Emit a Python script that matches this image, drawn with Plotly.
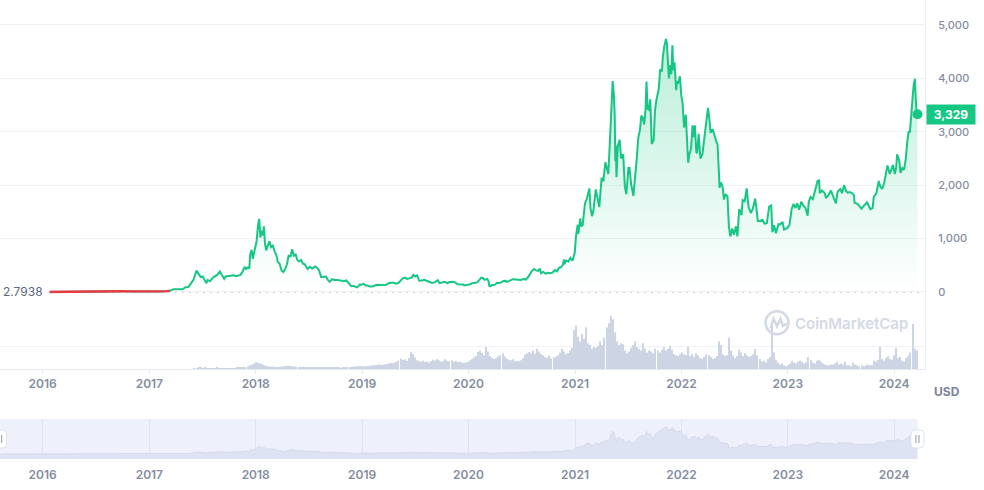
import pandas as pd
import plotly.graph_objects as go

# ---------------- data ----------------
PRICE_2015_2016 = [
    ("2015-08-08", 2.7938), ("2015-08-20", 1.25), ("2015-09-10", 1.0), ("2015-10-01", 0.7),
    ("2015-10-21", 0.45), ("2015-11-15", 0.9), ("2015-12-10", 0.85), ("2016-01-05", 0.95),
    ("2016-02-01", 2.3), ("2016-02-20", 4.5), ("2016-03-13", 14.5), ("2016-04-01", 11.5),
    ("2016-04-20", 8.0), ("2016-05-15", 12.5), ("2016-06-17", 20.0), ("2016-07-01", 12.5),
    ("2016-08-01", 9.0), ("2016-09-01", 12.0), ("2016-10-01", 13.0), ("2016-11-01", 11.0),
    ("2016-12-01", 8.0),
]
PRICE_2017 = [
    ("2017-01-01", 8.2), ("2017-02-01", 10.7), ("2017-03-01", 16.1), ("2017-03-12", 22),
    ("2017-03-25", 50), ("2017-04-10", 44), ("2017-04-25", 52), ("2017-05-05", 90),
    ("2017-05-15", 92), ("2017-05-25", 170), ("2017-06-01", 225), ("2017-06-12", 400),
    ("2017-06-18", 355), ("2017-06-26", 280), ("2017-07-03", 290), ("2017-07-10", 230),
    ("2017-07-16", 165), ("2017-07-20", 225), ("2017-07-28", 200), ("2017-08-07", 270),
    ("2017-08-15", 295), ("2017-08-22", 320), ("2017-08-31", 385), ("2017-09-07", 330),
    ("2017-09-15", 245), ("2017-09-20", 290), ("2017-09-28", 300), ("2017-10-08", 305),
    ("2017-10-17", 315), ("2017-10-25", 295), ("2017-11-03", 305), ("2017-11-10", 320),
    ("2017-11-17", 380), ("2017-11-24", 470), ("2017-11-29", 430), ("2017-12-05", 460),
    ("2017-12-10", 440), ("2017-12-13", 700), ("2017-12-18", 790), ("2017-12-22", 620),
    ("2017-12-27", 750),
]
PRICE_2018 = [
    ("2018-01-04", 950), ("2018-01-09", 1250), ("2018-01-13", 1370), ("2018-01-17", 1020),
    ("2018-01-21", 1150), ("2018-01-26", 1060), ("2018-01-29", 1230), ("2018-02-02", 900),
    ("2018-02-06", 780), ("2018-02-11", 860), ("2018-02-17", 950), ("2018-02-23", 840),
    ("2018-03-01", 870), ("2018-03-07", 760), ("2018-03-13", 690), ("2018-03-18", 560),
    ("2018-03-24", 530), ("2018-03-31", 400), ("2018-04-06", 375), ("2018-04-12", 430),
    ("2018-04-18", 520), ("2018-04-24", 680), ("2018-05-01", 670), ("2018-05-06", 800),
    ("2018-05-12", 680), ("2018-05-18", 700), ("2018-05-24", 600), ("2018-05-30", 570),
    ("2018-06-06", 600), ("2018-06-12", 530), ("2018-06-18", 520), ("2018-06-28", 430),
    ("2018-07-06", 470), ("2018-07-14", 440), ("2018-07-24", 480), ("2018-07-30", 460),
    ("2018-08-06", 410), ("2018-08-14", 280), ("2018-08-22", 280), ("2018-08-30", 290),
    ("2018-09-05", 230), ("2018-09-12", 190), ("2018-09-20", 240), ("2018-09-28", 225),
    ("2018-10-10", 225), ("2018-10-20", 205), ("2018-10-30", 200), ("2018-11-08", 215),
    ("2018-11-14", 180), ("2018-11-20", 130), ("2018-11-25", 110), ("2018-12-02", 115),
    ("2018-12-08", 92), ("2018-12-14", 85), ("2018-12-20", 110), ("2018-12-24", 140),
    ("2018-12-31", 135),
]
PRICE_2019 = [
    ("2019-01-06", 155), ("2019-01-13", 120), ("2019-01-20", 122), ("2019-01-28", 105),
    ("2019-02-06", 104), ("2019-02-16", 125), ("2019-02-24", 135), ("2019-03-05", 130),
    ("2019-03-15", 138), ("2019-03-25", 135), ("2019-04-02", 165), ("2019-04-10", 175),
    ("2019-04-20", 172), ("2019-04-28", 155), ("2019-05-06", 170), ("2019-05-14", 215),
    ("2019-05-20", 250), ("2019-05-28", 270), ("2019-06-04", 245), ("2019-06-12", 255),
    ("2019-06-20", 270), ("2019-06-26", 320), ("2019-07-02", 290), ("2019-07-09", 310),
    ("2019-07-16", 210), ("2019-07-25", 215), ("2019-08-04", 230), ("2019-08-10", 210),
    ("2019-08-20", 195), ("2019-08-29", 170), ("2019-09-07", 180), ("2019-09-18", 220),
    ("2019-09-24", 165), ("2019-10-02", 178), ("2019-10-12", 190), ("2019-10-22", 162),
    ("2019-10-26", 185), ("2019-11-06", 190), ("2019-11-15", 182), ("2019-11-25", 145),
    ("2019-12-05", 148), ("2019-12-15", 140), ("2019-12-18", 122), ("2019-12-28", 128),
]
PRICE_2020 = [
    ("2020-01-07", 145), ("2020-01-14", 165), ("2020-01-22", 168), ("2020-01-31", 180),
    ("2020-02-07", 222), ("2020-02-14", 270), ("2020-02-20", 258), ("2020-02-26", 226),
    ("2020-03-06", 245), ("2020-03-10", 200), ("2020-03-13", 112), ("2020-03-16", 110),
    ("2020-03-22", 130), ("2020-03-31", 133), ("2020-04-08", 172), ("2020-04-16", 170),
    ("2020-04-24", 185), ("2020-04-30", 208), ("2020-05-08", 212), ("2020-05-12", 190),
    ("2020-05-20", 208), ("2020-05-28", 220), ("2020-06-02", 240), ("2020-06-12", 236),
    ("2020-06-20", 229), ("2020-06-28", 226), ("2020-07-08", 241), ("2020-07-16", 232),
    ("2020-07-24", 280), ("2020-07-30", 334), ("2020-08-06", 396), ("2020-08-14", 430),
    ("2020-08-20", 405), ("2020-08-28", 395), ("2020-09-02", 440), ("2020-09-06", 352),
    ("2020-09-14", 375), ("2020-09-22", 342), ("2020-09-30", 360), ("2020-10-08", 350),
    ("2020-10-16", 368), ("2020-10-24", 410), ("2020-10-31", 386), ("2020-11-07", 455),
    ("2020-11-14", 465), ("2020-11-20", 510), ("2020-11-24", 608), ("2020-11-26", 520),
    ("2020-12-01", 590), ("2020-12-09", 570), ("2020-12-16", 640), ("2020-12-23", 585),
    ("2020-12-31", 737),
]
PRICE_2021 = [
    ("2021-01-04", 1040), ("2021-01-10", 1260), ("2021-01-12", 1090), ("2021-01-19", 1380),
    ("2021-01-22", 1230), ("2021-01-27", 1250), ("2021-02-04", 1660), ("2021-02-10", 1740),
    ("2021-02-19", 1940), ("2021-02-23", 1570), ("2021-02-28", 1420), ("2021-03-05", 1530),
    ("2021-03-13", 1920), ("2021-03-18", 1800), ("2021-03-25", 1590), ("2021-04-02", 2140),
    ("2021-04-08", 2070), ("2021-04-15", 2430), ("2021-04-22", 2300), ("2021-04-25", 2210),
    ("2021-04-30", 2770), ("2021-05-04", 3260), ("2021-05-10", 3950), ("2021-05-14", 3700),
    ("2021-05-17", 3300), ("2021-05-19", 2450), ("2021-05-21", 2740), ("2021-05-23", 2150),
    ("2021-05-28", 2750), ("2021-06-03", 2850), ("2021-06-08", 2500), ("2021-06-15", 2580),
    ("2021-06-21", 1960), ("2021-06-26", 1830), ("2021-07-03", 2320), ("2021-07-07", 2320),
    ("2021-07-12", 2030), ("2021-07-20", 1800), ("2021-07-25", 2190), ("2021-07-31", 2460),
    ("2021-08-06", 2890), ("2021-08-12", 3050), ("2021-08-16", 3300), ("2021-08-20", 3280),
    ("2021-08-26", 3140), ("2021-08-31", 3430), ("2021-09-03", 3940), ("2021-09-07", 3430),
    ("2021-09-12", 3410), ("2021-09-16", 3610), ("2021-09-21", 2770), ("2021-09-28", 2850),
    ("2021-10-02", 3390), ("2021-10-07", 3590), ("2021-10-15", 3800), ("2021-10-20", 4170),
    ("2021-10-26", 4130), ("2021-10-29", 4400), ("2021-11-03", 4600), ("2021-11-09", 4740),
    ("2021-11-12", 4650), ("2021-11-16", 4250), ("2021-11-19", 4000), ("2021-11-24", 4250),
    ("2021-11-27", 4080), ("2021-12-01", 4620), ("2021-12-04", 4150), ("2021-12-08", 4300),
    ("2021-12-11", 3930), ("2021-12-14", 3780), ("2021-12-17", 3950), ("2021-12-20", 3900),
    ("2021-12-27", 4040), ("2021-12-31", 3700),
]
PRICE_2022 = [
    ("2022-01-05", 3530), ("2022-01-10", 3080), ("2022-01-16", 3320), ("2022-01-21", 2570),
    ("2022-01-24", 2420), ("2022-01-29", 2600), ("2022-02-03", 2680), ("2022-02-08", 3120),
    ("2022-02-12", 2900), ("2022-02-16", 3120), ("2022-02-21", 2620), ("2022-02-24", 2600),
    ("2022-03-01", 2960), ("2022-03-07", 2500), ("2022-03-14", 2580), ("2022-03-20", 2860),
    ("2022-03-26", 3120), ("2022-04-02", 3450), ("2022-04-07", 3230), ("2022-04-11", 2980),
    ("2022-04-18", 3050), ("2022-04-24", 2920), ("2022-05-01", 2810), ("2022-05-05", 2760),
    ("2022-05-09", 2250), ("2022-05-12", 1950), ("2022-05-16", 2050), ("2022-05-22", 1980),
    ("2022-05-27", 1730), ("2022-06-01", 1830), ("2022-06-08", 1790), ("2022-06-13", 1210),
    ("2022-06-18", 1040), ("2022-06-24", 1190), ("2022-06-30", 1070), ("2022-07-07", 1230),
    ("2022-07-12", 1040), ("2022-07-18", 1550), ("2022-07-26", 1440), ("2022-07-30", 1720),
    ("2022-08-06", 1700), ("2022-08-13", 1940), ("2022-08-19", 1600), ("2022-08-27", 1480),
    ("2022-09-03", 1560), ("2022-09-06", 1620), ("2022-09-11", 1750), ("2022-09-15", 1580),
    ("2022-09-20", 1330), ("2022-09-28", 1330), ("2022-10-06", 1350), ("2022-10-13", 1280),
    ("2022-10-21", 1290), ("2022-10-29", 1600), ("2022-11-05", 1620), ("2022-11-09", 1120),
    ("2022-11-15", 1250), ("2022-11-21", 1100), ("2022-11-30", 1270), ("2022-12-05", 1260),
    ("2022-12-14", 1310), ("2022-12-19", 1170), ("2022-12-31", 1200),
]
PRICE_2023 = [
    ("2023-01-07", 1260), ("2023-01-14", 1550), ("2023-01-21", 1650), ("2023-01-27", 1570),
    ("2023-02-02", 1660), ("2023-02-09", 1540), ("2023-02-16", 1690), ("2023-02-24", 1610),
    ("2023-03-03", 1570), ("2023-03-10", 1430), ("2023-03-14", 1690), ("2023-03-20", 1780),
    ("2023-03-28", 1740), ("2023-04-04", 1870), ("2023-04-13", 2080), ("2023-04-18", 2090),
    ("2023-04-21", 1850), ("2023-04-28", 1900), ("2023-05-08", 1850), ("2023-05-12", 1760),
    ("2023-05-20", 1810), ("2023-05-29", 1900), ("2023-06-05", 1810), ("2023-06-10", 1750),
    ("2023-06-15", 1660), ("2023-06-21", 1880), ("2023-06-30", 1930), ("2023-07-06", 1850),
    ("2023-07-13", 2000), ("2023-07-20", 1890), ("2023-07-25", 1860), ("2023-08-02", 1870),
    ("2023-08-10", 1850), ("2023-08-16", 1810), ("2023-08-18", 1670), ("2023-08-28", 1650),
    ("2023-09-11", 1560), ("2023-09-20", 1620), ("2023-09-30", 1680), ("2023-10-05", 1620),
    ("2023-10-12", 1550), ("2023-10-19", 1570), ("2023-10-23", 1780), ("2023-11-01", 1850),
    ("2023-11-09", 2080), ("2023-11-14", 1980), ("2023-11-21", 1930), ("2023-11-28", 2050),
    ("2023-12-05", 2250), ("2023-12-09", 2370), ("2023-12-17", 2210), ("2023-12-23", 2310),
    ("2023-12-28", 2380),
]
PRICE_2024 = [
    ("2024-01-03", 2210), ("2024-01-08", 2330), ("2024-01-11", 2580), ("2024-01-15", 2510),
    ("2024-01-18", 2470), ("2024-01-23", 2230), ("2024-01-29", 2320), ("2024-02-04", 2290),
    ("2024-02-10", 2500), ("2024-02-15", 2820), ("2024-02-20", 3010), ("2024-02-24", 2990),
    ("2024-02-28", 3380), ("2024-03-04", 3620), ("2024-03-08", 3880), ("2024-03-12", 3990),
    ("2024-03-16", 3520), ("2024-03-19", 3250), ("2024-03-21", 3329),
]
RED_UNTIL = "2017-03-12"          # part of the line drawn red (below opening level)

# weekly volume, billions USD, starting on VOLUME_START
VOLUME_START = "2017-06-05"
VOL_2017 = [0.8, 1.0, 1.3, 1.1, 0.9, 1.2, 0.9, 0.7, 0.6, 0.8, 0.9, 1.1, 0.8, 0.7, 0.6,
            0.7, 0.6, 0.6, 0.7, 0.8, 0.9, 1.1, 1.4, 1.2, 1.5, 2.2, 3.1, 4.2, 5.0, 6.0]
VOL_2018 = [7.5, 6.8, 6.0, 5.5, 4.0, 3.2, 2.8, 2.5, 2.6, 2.4, 2.2, 2.0, 2.3, 2.6, 3.0, 3.2,
            3.4, 3.3, 3.0, 2.8, 2.5, 2.2, 2.0, 2.1, 1.8, 1.6, 1.8, 2.0, 1.7, 1.5, 1.4, 1.8,
            1.6, 1.4, 1.5, 1.7, 1.4, 1.3, 1.2, 1.1, 1.3, 1.2, 1.0, 1.1, 1.4, 2.0, 2.2, 2.4,
            2.6, 2.8, 3.0, 3.2]
VOL_2019 = [3.0, 2.8, 3.2, 3.0, 3.4, 3.8, 4.2, 4.0, 4.5, 4.8, 4.4, 5.0, 5.2, 5.8, 6.5, 6.2,
            6.8, 7.5, 9.0, 11.5, 9.8, 10.5, 8.8, 12.0, 18.5, 16.0, 12.5, 9.5, 8.8, 8.0, 9.0,
            7.5, 8.2, 7.0, 8.5, 10.0, 9.2, 11.0, 9.5, 8.0, 8.8, 10.5, 9.0, 8.4, 9.2, 7.8,
            8.5, 7.5, 8.0, 7.2, 6.8, 7.0]
VOL_2020 = [8.0, 9.5, 11.0, 12.5, 14.0, 18.5, 20.0, 17.5, 15.0, 24.0, 19.0, 14.0, 12.5,
            11.0, 12.0, 13.5, 15.0, 17.0, 13.5, 11.0, 10.0, 9.5, 10.5, 8.5, 9.0, 8.5, 9.5,
            12.0, 15.5, 17.0, 18.5, 17.0, 20.0, 16.5, 22.0, 19.0, 16.0, 15.0, 13.0, 12.0,
            14.5, 11.5, 12.5, 13.5, 15.0, 18.0, 22.0, 19.0, 16.0, 17.5, 20.0, 23.0]
VOL_2021 = [42, 47, 35, 30, 38, 33, 45, 28, 26, 22, 24, 23, 25, 30, 26, 34, 45, 50, 58, 54,
            40, 30, 26, 28, 27, 20, 17, 19, 23, 26, 30, 24, 22, 20, 28, 22, 18, 20, 19, 17,
            22, 20, 18, 21, 24, 20, 22, 25, 21, 16, 15, 14]
VOL_2022 = [16, 18, 16, 15, 24, 14, 16, 13, 17, 15, 12, 11, 13, 16, 15, 13, 11, 12, 14, 30,
            26, 16, 14, 15, 34, 20, 15, 12, 14, 21, 18, 14, 17, 15, 13, 14, 16, 22, 15, 11,
            8, 9, 7, 11, 13, 49, 18, 10, 7, 5, 6, 4]
VOL_2023 = [3, 4, 6, 9, 7, 6, 8, 9, 8, 6, 7, 13, 10, 7, 6, 9, 10, 8, 6, 5, 4, 4, 5, 5, 6, 8,
            5, 6, 5, 8, 4, 4, 3, 7, 5, 4, 3, 4, 3, 4, 5, 4, 4, 9, 8, 10, 24, 11, 9, 12, 14, 11]
VOL_2024 = [10, 15, 23, 12, 13, 9, 8, 12, 14, 18, 49, 22, 20]

Y_TICKS = [0, 1000, 2000, 3000, 4000, 5000]
VOL_GRID = [25]

# ---------------- assemble ----------------
PRICE_ROWS = (PRICE_2015_2016 + PRICE_2017 + PRICE_2018 + PRICE_2019 + PRICE_2020
              + PRICE_2021 + PRICE_2022 + PRICE_2023 + PRICE_2024)
price_dates = pd.to_datetime([d for d, _ in PRICE_ROWS])
price_vals = [v for _, v in PRICE_ROWS]
BASE = price_vals[0]
LAST = price_vals[-1]
red_mask = price_dates <= pd.Timestamp(RED_UNTIL)
red_dates = price_dates[red_mask]
red_vals = [v for v, m in zip(price_vals, red_mask) if m]

VOLUME = VOL_2017 + VOL_2018 + VOL_2019 + VOL_2020 + VOL_2021 + VOL_2022 + VOL_2023 + VOL_2024
vol_dates = pd.date_range(VOLUME_START, periods=len(VOLUME), freq="7D")

# ---------------- layout geometry ----------------
W, H = 984, 490
def px(x): return x / W
def py(y): return 1 - y / H

PLOT_R = px(925)
PRICE_DOM = [py(300), 1.0]
VOL_DOM = [py(369), py(300)]
NAV_DOM = [py(459), py(419)]
X_RANGE = ["2015-08-07 12:00", "2024-04-15 19:00"]
PRICE_RANGE = [-150, 5468]
VOL_RANGE = [0, 75]
NAV_RANGE = [-870, 6092]

GREEN = "#16c784"
RED = "#ea3943"
GRID = "#f0f2f5"
TICK_C = "#858ca2"
VOL_C = "#cdd4e3"
NAV_BG = "#eef1fc"
NAV_AREA = "#dee3f3"
NAV_GRID = "#e0e4f1"
LOGO_C = "#d3d9e5"
FONT = "Inter, 'Noto Sans', sans-serif"

fig = go.Figure()

fig.add_trace(go.Scatter(
    x=price_dates, y=price_vals, mode="lines", line=dict(color=GREEN, width=2),
    fill="tozeroy",
    fillgradient=dict(type="vertical", start=0, stop=4800,
                      colorscale=[[0, "rgba(22,199,132,0)"], [1, "rgba(22,199,132,0.30)"]]),
    xaxis="x", yaxis="y", hoverinfo="skip"))
fig.add_trace(go.Scatter(
    x=red_dates, y=red_vals, mode="lines", line=dict(color=RED, width=2.4),
    xaxis="x", yaxis="y", hoverinfo="skip"))
fig.add_trace(go.Scatter(
    x=[price_dates[-1]], y=[LAST], mode="markers", marker=dict(size=10, color=GREEN),
    xaxis="x", yaxis="y", hoverinfo="skip"))
fig.add_trace(go.Bar(
    x=vol_dates, y=VOLUME, width=3.6 * 86400000, marker=dict(color=VOL_C, line=dict(width=0)),
    xaxis="x2", yaxis="y2", hoverinfo="skip"))
fig.add_trace(go.Scatter(
    x=price_dates, y=price_vals, mode="lines", line=dict(color="#d4daec", width=1),
    fill="tozeroy", fillcolor=NAV_AREA, xaxis="x3", yaxis="y3", hoverinfo="skip"))

tick_font = dict(family=FONT, size=12, color=TICK_C, weight=600)

fig.update_layout(
    width=W, height=H, autosize=False, margin=dict(l=0, r=0, t=0, b=0, pad=0),
    paper_bgcolor="white", plot_bgcolor="white", showlegend=False, hovermode=False,
    font=dict(family=FONT),
    xaxis=dict(domain=[0, PLOT_R], anchor="y", range=X_RANGE, type="date",
               showgrid=False, showticklabels=False, zeroline=False, showline=False),
    yaxis=dict(domain=PRICE_DOM, anchor="x", side="right", range=PRICE_RANGE,
               tickvals=Y_TICKS, tickformat=",d", showgrid=True, gridcolor=GRID, gridwidth=1,
               zeroline=False, showline=True, linecolor="#eceff3", ticks="",
               ticklabelstandoff=10,
               tickfont=dict(family=FONT, size=11, color=TICK_C, weight=500)),
    xaxis2=dict(domain=[0, PLOT_R], anchor="y2", matches="x", type="date",
                showgrid=False, zeroline=False, showline=True, linecolor="#e6e9ef",
                ticks="outside", ticklen=4, tickcolor="#e6e9ef",
                dtick="M12", tick0="2016-01-01", tickformat="%Y", tickfont=tick_font),
    yaxis2=dict(domain=VOL_DOM, anchor="x2", side="right", range=VOL_RANGE,
                tickvals=VOL_GRID, showticklabels=False, showgrid=True, gridcolor=GRID,
                zeroline=False, showline=True, linecolor="#eceff3", ticks=""),
    xaxis3=dict(domain=[0, PLOT_R], anchor="y3", matches="x", type="date",
                showgrid=True, gridcolor=NAV_GRID, zeroline=False, showline=False,
                ticks="", dtick="M12", tick0="2016-01-01", tickformat="%Y",
                tickfont=tick_font, ticklabelstandoff=7),
    yaxis3=dict(domain=NAV_DOM, anchor="x3", range=NAV_RANGE, showgrid=False,
                showticklabels=False, zeroline=False, showline=False, ticks=""),
)

def rrect(w, h, r):
    a, b = w / 2, h / 2
    return (f"M {-a + r},{-b} L {a - r},{-b} Q {a},{-b} {a},{-b + r} L {a},{b - r} "
            f"Q {a},{b} {a - r},{b} L {-a + r},{b} Q {-a},{b} {-a},{b - r} "
            f"L {-a},{-b + r} Q {-a},{-b} {-a + r},{-b} Z")

nav_mid = (NAV_DOM[0] + NAV_DOM[1]) / 2
shapes = [
    # navigator background and lower band of the navigator area
    dict(type="rect", xref="x3", yref="paper", x0=price_dates[0], x1=price_dates[-1],
         y0=NAV_DOM[0], y1=NAV_DOM[1], fillcolor=NAV_BG, line=dict(width=0), layer="below"),
    dict(type="rect", xref="x3", yref="y3", x0=price_dates[0], x1=price_dates[-1],
         y0=NAV_RANGE[0], y1=0, fillcolor=NAV_AREA, line=dict(width=0), layer="between"),
    # dotted opening-price line
    dict(type="line", xref="paper", yref="y", x0=0, x1=px(920), y0=BASE, y1=BASE,
         line=dict(color="#a3abbd", width=1.5, dash="2px,5px"), layer="between"),
    # watermark logo
    dict(type="circle", xref="paper", yref="paper", x0=px(765.5), x1=px(788.5),
         y0=py(334.3), y1=py(311.3), line=dict(color=LOGO_C, width=2.5)),
    dict(type="path", xref="paper", yref="paper",
         path=(f"M {px(770.5)},{py(328.5)} L {px(773.5)},{py(318.5)} L {px(777)},{py(326.5)} "
               f"L {px(780.5)},{py(318.5)} L {px(783)},{py(326)} L {px(786.5)},{py(323.5)}"),
         line=dict(color=LOGO_C, width=2.5)),
]
for anchor in (price_dates[0], price_dates[-1]):
    shapes.append(dict(type="path", xref="x3", yref="paper", xsizemode="pixel",
                       ysizemode="pixel", xanchor=anchor, yanchor=nav_mid,
                       path=rrect(13, 18, 4), fillcolor="white",
                       line=dict(color="#dde2ec", width=1), layer="above"))
    for dx in (-1.5, 1.5):
        shapes.append(dict(type="line", xref="x3", yref="paper", xsizemode="pixel",
                           ysizemode="pixel", xanchor=anchor, yanchor=nav_mid,
                           x0=dx, x1=dx, y0=-4, y1=4,
                           line=dict(color="#8e97ab", width=1), layer="above"))
fig.update_layout(shapes=shapes)

fig.update_layout(annotations=[
    dict(xref="paper", yref="y", x=0, xshift=-4, y=BASE, xanchor="left", yanchor="middle",
         text=f"{BASE:.4f}", showarrow=False, bgcolor="white", borderpad=6,
         font=dict(family=FONT, size=12, color="#58667e")),
    dict(xref="paper", yref="y", x=PLOT_R, xshift=1, y=LAST, xanchor="left",
         yanchor="middle", text=f"{LAST:,.0f}", showarrow=False, bgcolor=GREEN,
         borderpad=3, width=42, height=13,
         font=dict(family=FONT, size=12, color="white", weight=700)),
    dict(xref="paper", yref="paper", x=px(947), y=py(391), xanchor="center",
         yanchor="middle", text="USD", showarrow=False,
         font=dict(family=FONT, size=12, color="#7b8499", weight=700)),
    dict(xref="paper", yref="paper", x=px(851), y=py(323), xanchor="center",
         yanchor="middle", text="CoinMarketCap", showarrow=False,
         font=dict(family=FONT, size=15, color=LOGO_C, weight=600)),
])

fig.write_html("out.html", include_plotlyjs=True, config={"displayModeBar": False})
